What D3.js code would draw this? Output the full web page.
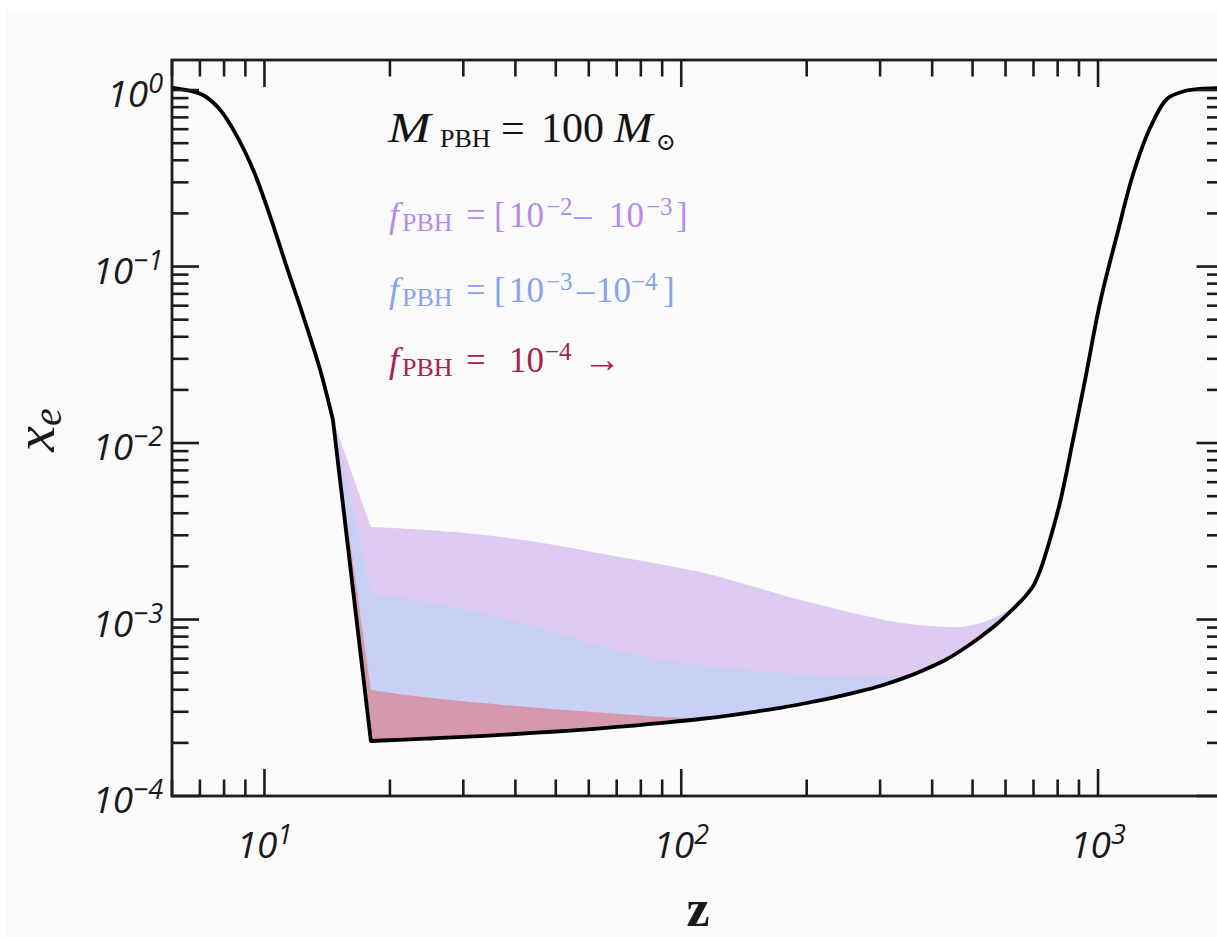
<!DOCTYPE html>
<html>
<head>
<meta charset="utf-8">
<script src="https://cdn.jsdelivr.net/npm/d3@7"></script>
<style>
  html, body { margin: 0; padding: 0; background: #ffffff; overflow: hidden; }
  svg { display: block; }
</style>
</head>
<body>
<svg id="chart" width="1217" height="937"></svg>
<script>
// Ionization fraction x_e versus redshift z, with the band of PBH-heated histories.

// Reionization branch (low z), black curve
const zReion  = [6, 6.5, 7.1, 7.8, 8.6, 9.4, 10.3, 11.3, 12.4, 13.6, 14.6];
const xeReion = [1.03, 1.0, 0.94, 0.78, 0.545, 0.352, 0.195, 0.100, 0.052, 0.026, 0.0135];

// Dark-ages grid where the PBH bands live
const zBand  = [14.6, 18, 21, 25, 30, 37, 45, 53, 64, 77, 93, 111, 131, 150, 173, 200, 230, 265, 300, 340, 380, 430, 475, 520, 572, 625, 670];
// f_PBH -> 0 (black curve)
const xeBase = [0.0135, 2.05e-4, 2.082e-4, 2.118e-4, 2.162e-4, 2.219e-4, 2.284e-4, 2.341e-4, 2.419e-4, 2.508e-4, 2.615e-4, 2.731e-4, 2.866e-4, 3.0e-4, 3.161e-4, 3.365e-4, 3.595e-4, 3.888e-4, 4.201e-4, 4.638e-4, 5.149e-4, 5.897e-4, 6.806e-4, 7.91e-4, 9.43e-4, 1.147e-3, 1.359e-3];
// f_PBH = 1e-2
const xeF2   = [0.0135, 3.343e-3, 3.287e-3, 3.206e-3, 3.099e-3, 2.934e-3, 2.749e-3, 2.576e-3, 2.366e-3, 2.188e-3, 2.018e-3, 1.857e-3, 1.677e-3, 1.529e-3, 1.386e-3, 1.263e-3, 1.163e-3, 1.074e-3, 1.008e-3, 9.55e-4, 9.26e-4, 9.10e-4, 9.10e-4, 9.51e-4, 1.040e-3, 1.179e-3, 1.359e-3];
// f_PBH = 1e-3
const xeF3   = [0.0135, 1.413e-3, 1.341e-3, 1.249e-3, 1.147e-3, 1.026e-3, 9.07e-4, 8.06e-4, 7.08e-4, 6.38e-4, 5.86e-4, 5.525e-4, 5.28e-4, 5.11e-4, 4.98e-4, 4.85e-4, 4.79e-4, 4.72e-4, 4.72e-4, 4.85e-4, 5.149e-4, 5.897e-4, 6.806e-4, 7.91e-4, 9.43e-4, 1.147e-3, 1.359e-3];
// f_PBH = 1e-4
const xeF4   = [0.0135, 3.987e-4, 3.789e-4, 3.600e-4, 3.440e-4, 3.291e-4, 3.164e-4, 3.067e-4, 2.968e-4, 2.877e-4, 2.796e-4, 2.759e-4, 2.866e-4, 3.0e-4, 3.161e-4, 3.365e-4, 3.595e-4, 3.888e-4, 4.201e-4, 4.638e-4, 5.149e-4, 5.897e-4, 6.806e-4, 7.91e-4, 9.43e-4, 1.147e-3, 1.359e-3];

// Recombination branch (high z), black curve
const zRecomb  = [700, 727, 755, 811, 870, 931, 1012, 1112, 1214, 1333, 1463, 1600, 1750, 2000];
const xeRecomb = [1.558e-3, 1.908e-3, 2.509e-3, 4.63e-3, 0.01027, 0.02276, 0.06295, 0.1529, 0.3344, 0.6095, 0.8896, 0.981, 1.014, 1.027];

// Axis decades
const xMajorExps = [1, 2, 3];
const yMajorExps = [0, -1, -2, -3, -4];

const svg = d3.select("#chart");

// page panel
svg.append("rect").attr("x", 6).attr("y", 11).attr("width", 1211).attr("height", 926).attr("fill", "#fafafa");

const L = 172, T = 60, R = 1223.5, B = 796;
const x = d3.scaleLog().domain([6, 2000]).range([L, R]);
const y = d3.scaleLog().domain([1e-4, 1.48]).range([B, T]);

svg.append("clipPath").attr("id", "plotClip")
  .append("rect").attr("x", L).attr("y", T).attr("width", R - L).attr("height", B - T);

const plot = svg.append("g").attr("clip-path", "url(#plotClip)");
const smoothCurve = d3.curveCatmullRom.alpha(0.5);

// bands: each layer filled from the f->0 curve up to its f_PBH curve
const rows = zBand.map((z, i) => ({ z, base: xeBase[i], f2: xeF2[i], f3: xeF3[i], f4: xeF4[i] }));
function bandPath(key) {
  const wedge = d3.area().x(d => x(d.z)).y0(d => y(d.base)).y1(d => y(d[key])).curve(d3.curveLinear);
  const body  = d3.area().x(d => x(d.z)).y0(d => y(d.base)).y1(d => y(d[key])).curve(smoothCurve);
  return wedge(rows.slice(0, 2)) + body(rows.slice(1));
}
const bands = [
  { key: "f2", fill: "#dfcbf1" },
  { key: "f3", fill: "#c8d0f5" },
  { key: "f4", fill: "#d49aab" }
];
bands.forEach(b => plot.append("path").attr("d", bandPath(b.key)).attr("fill", b.fill));

// black x_e curve: smooth reionization, straight drop to z = 18, smooth recombination
const segA = zReion.map((z, i) => [z, xeReion[i]]);
const segB = [[zBand[0], xeBase[0]], [zBand[1], xeBase[1]]];
const segC = zBand.slice(1).map((z, i) => [z, xeBase[i + 1]]).concat(zRecomb.map((z, i) => [z, xeRecomb[i]]));
const smooth = d3.line().x(d => x(d[0])).y(d => y(d[1])).curve(smoothCurve);
const straight = d3.line().x(d => x(d[0])).y(d => y(d[1])).curve(d3.curveLinear);
plot.append("path")
  .attr("d", smooth(segA) + straight(segB) + smooth(segC))
  .attr("fill", "none").attr("stroke", "#000").attr("stroke-width", 3.8)
  .attr("stroke-linejoin", "round").attr("stroke-linecap", "round");

// ticks (inward on all four sides)
const axisColor = "#1c1c1c";
const isMajor = v => Math.abs(Math.log10(v) - Math.round(Math.log10(v))) < 1e-9;
const xt = x.ticks().filter(v => v >= 6 && v <= 2000);
const yt = y.ticks().filter(v => v >= 1e-4 && v <= 1.48);
const MAJ = 27, MIN = 16.5;
const tickG = svg.append("g").attr("stroke", axisColor).attr("stroke-width", 2.6);
xt.forEach(v => {
  const len = isMajor(v) ? MAJ : MIN, px = x(v);
  tickG.append("line").attr("x1", px).attr("x2", px).attr("y1", B).attr("y2", B - len);
  tickG.append("line").attr("x1", px).attr("x2", px).attr("y1", T).attr("y2", T + len);
});
yt.forEach(v => {
  const len = isMajor(v) ? MAJ : MIN, py = y(v);
  tickG.append("line").attr("x1", L).attr("x2", L + len).attr("y1", py).attr("y2", py);
  tickG.append("line").attr("x1", R).attr("x2", R - len).attr("y1", py).attr("y2", py);
});

// frame
svg.append("rect").attr("x", L).attr("y", T).attr("width", R - L).attr("height", B - T)
  .attr("fill", "none").attr("stroke", axisColor).attr("stroke-width", 2.8);

// tick labels 10^k
const tickFont = "'Open Sans', 'Noto Sans', sans-serif";
function powerLabel(sel, e) {
  sel.append("tspan").text("10");
  sel.append("tspan").attr("font-size", 27).attr("dy", -14).text(e < 0 ? "\u2212" + (-e) : String(e));
}
yMajorExps.forEach(e => {
  const t = svg.append("text").attr("x", 163).attr("y", y(Math.pow(10, e)) + 17)
    .attr("text-anchor", "end").attr("font-family", tickFont).attr("font-style", "italic")
    .attr("font-size", 37).attr("fill", "#1a1a1a");
  powerLabel(t, e);
});
xMajorExps.forEach(e => {
  const t = svg.append("text").attr("x", x(Math.pow(10, e))).attr("y", 858)
    .attr("text-anchor", "middle").attr("font-family", tickFont).attr("font-style", "italic")
    .attr("font-size", 37).attr("fill", "#1a1a1a");
  powerLabel(t, e);
});

// axis titles
const serif = "'Liberation Serif', 'DejaVu Serif', serif";
svg.append("text").attr("x", 698).attr("y", 926).attr("text-anchor", "middle")
  .attr("font-family", serif).attr("font-weight", "bold").attr("font-size", 52).attr("fill", "#1a1a1a")
  .text("z");
const yTitle = svg.append("text").attr("transform", "translate(54,430) rotate(-90)")
  .attr("text-anchor", "middle").attr("font-family", serif).attr("font-style", "italic")
  .attr("font-size", 58).attr("fill", "#1a1a1a");
yTitle.append("tspan").text("x");
yTitle.append("tspan").attr("font-size", 40).attr("dy", 7).text("e");

// annotations
function richText(pieces, color, baseY) {
  const g = svg.append("g").attr("fill", color).attr("font-family", serif);
  pieces.forEach(p => {
    g.append("text")
      .attr("transform", `translate(${p.x},${baseY + (p.dy || 0)}) scale(${p.sx || 1},1)`)
      .attr("font-size", p.size).attr("font-style", p.it ? "italic" : "normal").text(p.t);
  });
}
richText([
  { t: "M", x: 388, size: 42, it: true, sx: 1.22 },
  { t: "PBH", x: 440, size: 26, dy: 5 },
  { t: "=", x: 501, size: 42 },
  { t: "100", x: 541, size: 42 },
  { t: "M", x: 614, size: 42, it: true, sx: 1.1 },
  { t: "\u2299", x: 656, size: 24, dy: 8 }
], "#141414", 142);

const fHead = [
  { t: "f", x: 389, size: 36, it: true },
  { t: "PBH", x: 402, size: 26, dy: 4 },
  { t: "=", x: 466, size: 35 }
];

richText(fHead.concat([
  { t: "[", x: 494, size: 35 },
  { t: "10", x: 509, size: 35 },
  { t: "\u22122", x: 546, size: 25, dy: -12 },
  { t: "\u2013", x: 574, size: 35 },
  { t: "10", x: 609, size: 35 },
  { t: "\u22123", x: 646, size: 25, dy: -12 },
  { t: "]", x: 676, size: 35 }
]), "#b78be6", 227);

richText(fHead.concat([
  { t: "[", x: 494, size: 35 },
  { t: "10", x: 509, size: 35 },
  { t: "\u22123", x: 546, size: 25, dy: -12 },
  { t: "\u2013", x: 577, size: 35 },
  { t: "10", x: 596, size: 35 },
  { t: "\u22124", x: 631, size: 25, dy: -12 },
  { t: "]", x: 663, size: 35 }
]), "#88a2ee", 302);

richText(fHead.concat([
  { t: "10", x: 509, size: 35 },
  { t: "\u22124", x: 545, size: 25, dy: -12 },
  { t: "\u2192", x: 583, size: 38 }
]), "#a5244f", 372);
</script>
</body>
</html>
